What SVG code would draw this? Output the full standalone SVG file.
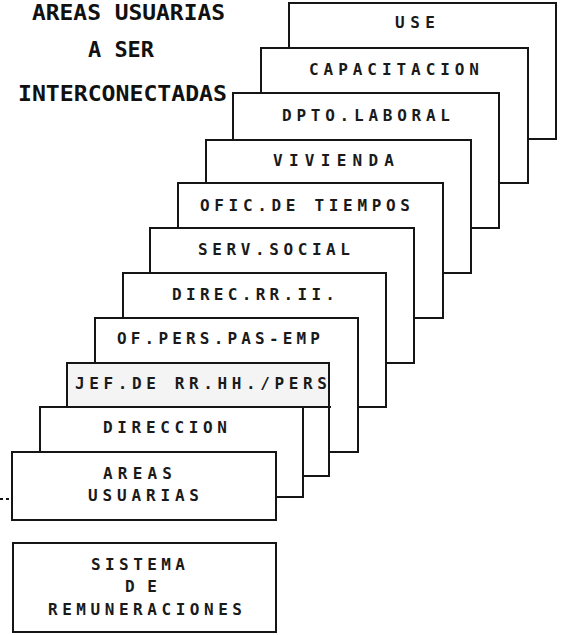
<svg xmlns="http://www.w3.org/2000/svg" width="562" height="635" viewBox="0 0 562 635">
  <style>
    .box { fill: #ffffff; stroke: #151515; stroke-width: 2; }
    .edge { fill: none; stroke: #151515; stroke-width: 2; }
    .lbl { font-family: "DejaVu Sans Mono", "Liberation Mono", monospace; font-weight: bold; font-size: 16px; fill: #1a1a1a; }
    .ttl { font-family: "DejaVu Sans Mono", "Liberation Mono", monospace; font-weight: bold; font-size: 22px; fill: #111111; }
  </style>
  <rect x="0" y="0" width="562" height="635" fill="#ffffff"/>

  <!-- heading -->
  <g id="heading">
    <text class="ttl" x="32" y="20" font-size="21" textLength="193" lengthAdjust="spacingAndGlyphs">AREAS USUARIAS</text>
    <text class="ttl" x="88" y="57" textLength="66" lengthAdjust="spacingAndGlyphs">A SER</text>
    <text class="ttl" x="18" y="101" textLength="209" lengthAdjust="spacingAndGlyphs">INTERCONECTADAS</text>
  </g>

  <!-- stacked area cards, painted back to front -->
  <g id="use">
    <rect class="box" x="289" y="3" width="267" height="136"/>
    <text class="lbl" x="395" y="28" textLength="40" lengthAdjust="spacing">USE</text>
  </g>
  <g id="capacitacion">
    <rect class="box" x="261" y="48" width="267" height="135"/>
    <text class="lbl" x="309" y="75" textLength="170" lengthAdjust="spacing">CAPACITACION</text>
  </g>
  <g id="dpto-laboral">
    <rect class="box" x="233" y="93" width="266" height="135"/>
    <text class="lbl" x="282" y="121" textLength="168" lengthAdjust="spacing">DPTO.LABORAL</text>
  </g>
  <g id="vivienda">
    <rect class="box" x="206" y="140" width="265" height="133"/>
    <text class="lbl" x="273" y="166" textLength="121" lengthAdjust="spacing">VIVIENDA</text>
  </g>
  <g id="ofic-tiempos">
    <rect class="box" x="178" y="183" width="265" height="135"/>
    <text class="lbl" x="200" y="211" textLength="210" lengthAdjust="spacing">OFIC.DE TIEMPOS</text>
  </g>
  <g id="serv-social">
    <rect class="box" x="150" y="228" width="264" height="135"/>
    <text class="lbl" x="198" y="255" textLength="152" lengthAdjust="spacing">SERV.SOCIAL</text>
  </g>
  <g id="direc-rrii">
    <rect class="box" x="123" y="273" width="263" height="134"/>
    <text class="lbl" x="172" y="300" textLength="163" lengthAdjust="spacing">DIREC.RR.II.</text>
  </g>
  <g id="of-pers">
    <rect class="box" x="95" y="318" width="263" height="134"/>
    <text class="lbl" x="117" y="344" textLength="203" lengthAdjust="spacing">OF.PERS.PAS-EMP</text>
  </g>
  <g id="jef-rrhh">
    <rect class="box" x="67" y="363" width="262" height="113"/>
    <rect x="68" y="364" width="260" height="43" fill="#f4f4f4"/>
    <line class="edge" x1="300" y1="407" x2="331" y2="407"/>
    <text class="lbl" x="75" y="389" textLength="252" lengthAdjust="spacing">JEF.DE RR.HH./PERS</text>
  </g>
  <g id="direccion">
    <rect class="box" x="40" y="407" width="263" height="90"/>
    <text class="lbl" x="103" y="433" textLength="124" lengthAdjust="spacing">DIRECCION</text>
  </g>
  <g id="areas-usuarias">
    <rect class="box" x="12" y="452" width="264" height="68"/>
    <text class="lbl" x="103" y="479" textLength="69" lengthAdjust="spacing">AREAS</text>
    <text class="lbl" x="88" y="501" textLength="111" lengthAdjust="spacing">USUARIAS</text>
  </g>

  <!-- payroll system -->
  <g id="sistema-remuneraciones">
    <rect class="box" x="13" y="543" width="263" height="89"/>
    <text class="lbl" x="91" y="570" textLength="94" lengthAdjust="spacing">SISTEMA</text>
    <text class="lbl" x="125" y="592" textLength="32" lengthAdjust="spacing">DE</text>
    <text class="lbl" x="48" y="615" textLength="194" lengthAdjust="spacing">REMUNERACIONES</text>
  </g>

  <!-- connectors -->
  <g id="connectors">
    <line x1="0" y1="499" x2="11" y2="499" stroke="#151515" stroke-width="2" stroke-dasharray="3 3"/>
  </g>
</svg>
